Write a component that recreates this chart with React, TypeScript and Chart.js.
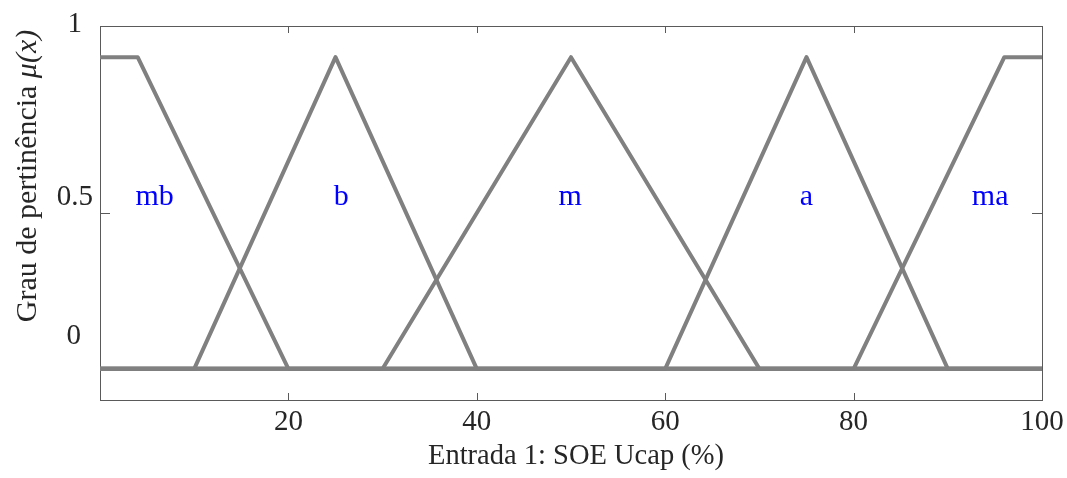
import React, { useEffect, useRef } from "react";
import { Chart, registerables } from "chart.js";

Chart.register(...registerables);

// ---- data ----
const mbX = [0, 4, 20, 100];
const mbY = [1, 1, 0, 0];
const bX = [0, 10, 25, 40, 100];
const bY = [0, 0, 1, 0, 0];
const mX = [0, 30, 50, 70, 100];
const mY = [0, 0, 1, 0, 0];
const aX = [0, 60, 75, 90, 100];
const aY = [0, 0, 1, 0, 0];
const maX = [0, 80, 96, 100];
const maY = [0, 0, 1, 1];

const mfNames = ["mb", "b", "m", "a", "ma"];
const mfLabelX = [5.8, 25.6, 49.9, 75, 94.5];
const mfLabelY = [0.525, 0.525, 0.525, 0.525, 0.525];

const xTickValues = [20, 40, 60, 80, 100];
const xTickLabels = ["20", "40", "60", "80", "100"];
const yTickValues = [0, 0.5, 1];
const yTickLabels = ["0", "0.5", "1"];

const xAxisTitle = "Entrada 1: SOE Ucap (%)";
const yAxisTitle = "Grau de pertinência ";
const yAxisTitleMath = "μ(x)";

// ---- style ----
const LINE_COLOR = "#808080";
const AXIS_COLOR = "#5a5a5a";
const TEXT_COLOR = "#262626";
const LABEL_COLOR = "#0000ff";
const FONT = "'Liberation Serif', 'Times New Roman', serif";
const FS = 29;

// pixel offsets of the y tick labels relative to their tick (right edge, baseline)
const yLabelOffsets = [
  { dx: -19, dy: -25.3 },
  { dx: -7, dy: -8.5 },
  { dx: -18, dy: -25.2 },
];

const toPts = (xs: number[], ys: number[]) => xs.map((x, i) => ({ x, y: ys[i] }));

const axesPlugin = {
  id: "matlabAxes",
  beforeDatasetsDraw(chart: any) {
    const { ctx, chartArea } = chart;
    const xs = chart.scales.x;
    const ys = chart.scales.y;
    const { left, right, top, bottom } = chartArea;
    ctx.save();
    ctx.strokeStyle = AXIS_COLOR;
    ctx.lineWidth = 1;
    ctx.strokeRect(Math.round(left) + 0.5, Math.round(top) + 0.5, Math.round(right - left), Math.round(bottom - top));
    ctx.beginPath();
    xTickValues.forEach((v) => {
      const px = Math.round(xs.getPixelForValue(v)) + 0.5;
      ctx.moveTo(px, bottom);
      ctx.lineTo(px, bottom - 7);
      ctx.moveTo(px, top);
      ctx.lineTo(px, top + 7);
    });
    yTickValues.forEach((v) => {
      const py = Math.round(ys.getPixelForValue(v)) + 0.5;
      ctx.moveTo(left, py);
      ctx.lineTo(left + 10, py);
      ctx.moveTo(right, py);
      ctx.lineTo(right - 10, py);
    });
    ctx.stroke();
    ctx.restore();
  },
  afterDraw(chart: any) {
    const { ctx, chartArea } = chart;
    const xs = chart.scales.x;
    const ys = chart.scales.y;
    const { left, right, top, bottom } = chartArea;
    ctx.save();
    ctx.fillStyle = TEXT_COLOR;
    ctx.font = `${FS}px ${FONT}`;
    ctx.textBaseline = "alphabetic";

    // x tick labels
    ctx.textAlign = "center";
    xTickValues.forEach((v, i) => {
      ctx.fillText(xTickLabels[i], xs.getPixelForValue(v), bottom + 29.5);
    });

    // y tick labels
    ctx.textAlign = "right";
    yTickValues.forEach((v, i) => {
      const o = yLabelOffsets[i];
      ctx.fillText(yTickLabels[i], left + o.dx, ys.getPixelForValue(v) + o.dy);
    });

    // x title
    ctx.textAlign = "center";
    ctx.font = `${FS - 0.5}px ${FONT}`;
    ctx.fillText(xAxisTitle, (left + right) / 2 + 5, bottom + 64);

    // y title (rotated, mixed upright + italic)
    const TFS = 30;
    ctx.save();
    ctx.translate(36, 176);
    ctx.rotate(-Math.PI / 2);
    ctx.textAlign = "left";
    ctx.font = `${TFS}px ${FONT}`;
    const w1 = ctx.measureText(yAxisTitle).width;
    ctx.font = `italic ${TFS}px ${FONT}`;
    const w2 = ctx.measureText(yAxisTitleMath).width;
    const start = -(w1 + w2) / 2;
    ctx.font = `${TFS}px ${FONT}`;
    ctx.fillText(yAxisTitle, start, 0);
    ctx.font = `italic ${TFS}px ${FONT}`;
    ctx.fillText(yAxisTitleMath, start + w1, 0);
    ctx.restore();

    // membership function names
    ctx.fillStyle = LABEL_COLOR;
    ctx.font = `${FS + 1}px ${FONT}`;
    ctx.textAlign = "center";
    mfNames.forEach((n, i) => {
      ctx.fillText(n, xs.getPixelForValue(mfLabelX[i]), ys.getPixelForValue(mfLabelY[i]));
    });
    ctx.restore();
  },
};

export default function App() {
  const ref = useRef<HTMLCanvasElement | null>(null);

  useEffect(() => {
    if (!ref.current) return;
    const mk = (label: string, xs: number[], ys: number[]) => ({
      label,
      data: toPts(xs, ys),
      showLine: true,
      borderColor: LINE_COLOR,
      backgroundColor: LINE_COLOR,
      borderWidth: 4,
      pointRadius: 0,
      pointHoverRadius: 0,
      fill: false,
      tension: 0,
      borderJoinStyle: "round" as const,
    });
    const chart = new Chart(ref.current, {
      type: "scatter",
      data: {
        datasets: [
          mk(mfNames[0], mbX, mbY),
          mk(mfNames[1], bX, bY),
          mk(mfNames[2], mX, mY),
          mk(mfNames[3], aX, aY),
          mk(mfNames[4], maX, maY),
        ],
      },
      options: {
        animation: false,
        responsive: false,
        devicePixelRatio: 1,
        events: [],
        layout: { padding: { left: 100, right: 25, top: 26, bottom: 78 } },
        plugins: { legend: { display: false }, tooltip: { enabled: false } },
        scales: {
          x: { type: "linear", min: 0, max: 100, display: false },
          y: { type: "linear", min: -0.1, max: 1.1, display: false },
        },
      },
      plugins: [axesPlugin],
    });
    return () => chart.destroy();
  }, []);

  return (
    <div style={{ position: "absolute", left: 0, top: 0, width: 1067, height: 478, background: "#fff" }}>
      <canvas ref={ref} width={1067} height={478} style={{ display: "block" }} />
    </div>
  );
}
